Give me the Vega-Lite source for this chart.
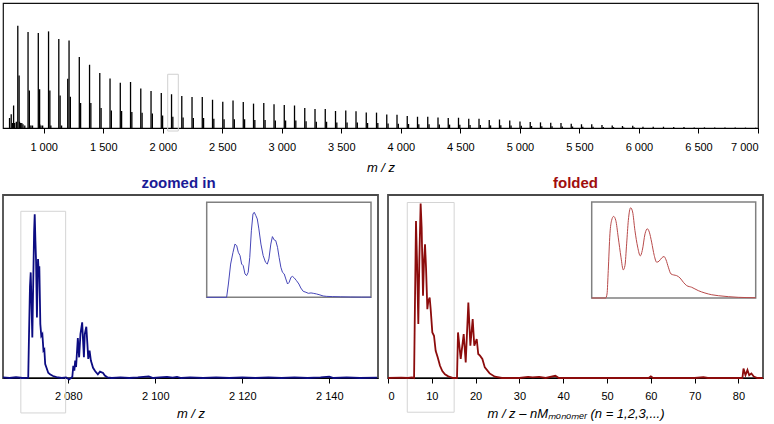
{
  "$schema": "https://vega.github.io/schema/vega-lite/v6.json",
  "padding": {"left": -2, "top": 2, "right": 0, "bottom": 0},
  "background": "white",
  "config": {
    "font": "Liberation Sans",
    "view": {"stroke": "#4a4a4a", "strokeWidth": 1.8},
    "axis": {"grid": false, "domainColor": "black", "domainWidth": 1, "tickColor": "black", "tickSize": 5, "labelFontSize": 11, "labelColor": "black", "titleFontSize": 13, "titleFontWeight": "normal", "titleFontStyle": "italic", "titleColor": "black", "labelPadding": 7, "titlePadding": 6},
    "title": {"fontSize": 15, "fontWeight": "bold", "offset": 4}
  },
  "datasets": {
    "top": [
      {"mz": 713, "h": 8}, {"mz": 727, "h": 11}, {"mz": 737, "h": 4}, {"mz": 747, "h": 18}, {"mz": 756, "h": 4}, {"mz": 770, "h": 5},
      {"mz": 797, "h": 5}, {"mz": 806, "h": 4}, {"mz": 816, "h": 4}, {"mz": 826, "h": 3}, {"mz": 841, "h": 2}, {"mz": 882, "h": 2}, {"mz": 893, "h": 2}, {"mz": 906, "h": 2}, {"mz": 966, "h": 3}, {"mz": 977, "h": 2}, {"mz": 991, "h": 2}, {"mz": 1060, "h": 2}, {"mz": 1150, "h": 2},
      {"mz": 782.3, "h": 81.8}, {"mz": 793.3, "h": 42},
      {"mz": 868.4, "h": 76.8}, {"mz": 879.4, "h": 30},
      {"mz": 954.5, "h": 76}, {"mz": 965.5, "h": 31},
      {"mz": 1040.6, "h": 77.3}, {"mz": 1051.6, "h": 30},
      {"mz": 1126.7, "h": 71.2}, {"mz": 1137.7, "h": 26},
      {"mz": 1201.8, "h": 39.4}, {"mz": 1212.8, "h": 70.1}, {"mz": 1223.8, "h": 25},
      {"mz": 1298.9, "h": 56.8}, {"mz": 1309.9, "h": 20},
      {"mz": 1385.0, "h": 50.6}, {"mz": 1396.0, "h": 20},
      {"mz": 1471.0, "h": 44}, {"mz": 1482.0, "h": 16},
      {"mz": 1557.1, "h": 39.7}, {"mz": 1568.1, "h": 14},
      {"mz": 1643.2, "h": 36.3}, {"mz": 1654.2, "h": 13.6},
      {"mz": 1729.3, "h": 36.8}, {"mz": 1740.3, "h": 12.8},
      {"mz": 1815.4, "h": 31.7}, {"mz": 1826.4, "h": 12.3},
      {"mz": 1901.5, "h": 29.6}, {"mz": 1912.5, "h": 11.7},
      {"mz": 1987.6, "h": 28}, {"mz": 1998.6, "h": 10},
      {"mz": 2073.7, "h": 27}, {"mz": 2084.7, "h": 9},
      {"mz": 2159.8, "h": 25.6}, {"mz": 2170.8, "h": 8.5},
      {"mz": 2245.8, "h": 24.8}, {"mz": 2256.8, "h": 8},
      {"mz": 2331.9, "h": 24.8}, {"mz": 2342.9, "h": 8},
      {"mz": 2418.0, "h": 22.6}, {"mz": 2429.0, "h": 7.5},
      {"mz": 2504.1, "h": 21}, {"mz": 2515.1, "h": 7},
      {"mz": 2590.2, "h": 22}, {"mz": 2601.2, "h": 7},
      {"mz": 2676.3, "h": 20.8}, {"mz": 2687.3, "h": 7},
      {"mz": 2762.4, "h": 19.5}, {"mz": 2773.4, "h": 6.5},
      {"mz": 2848.5, "h": 20}, {"mz": 2859.5, "h": 6.5},
      {"mz": 2934.6, "h": 19}, {"mz": 2945.6, "h": 6},
      {"mz": 3020.7, "h": 18.4}, {"mz": 3031.7, "h": 6},
      {"mz": 3106.7, "h": 18}, {"mz": 3117.7, "h": 6},
      {"mz": 3192.8, "h": 16}, {"mz": 3203.8, "h": 5.5},
      {"mz": 3278.9, "h": 15.2}, {"mz": 3289.9, "h": 5},
      {"mz": 3365.0, "h": 15.2}, {"mz": 3376.0, "h": 5},
      {"mz": 3451.1, "h": 13.6}, {"mz": 3462.1, "h": 4.5},
      {"mz": 3537.2, "h": 14}, {"mz": 3548.2, "h": 4.5},
      {"mz": 3623.3, "h": 13.4}, {"mz": 3634.3, "h": 4.5},
      {"mz": 3709.4, "h": 12.5}, {"mz": 3720.4, "h": 4},
      {"mz": 3795.5, "h": 12.3}, {"mz": 3806.5, "h": 4},
      {"mz": 3881.6, "h": 10.8}, {"mz": 3892.6, "h": 3.6},
      {"mz": 3967.6, "h": 10.6}, {"mz": 3978.6, "h": 3.5},
      {"mz": 4053.7, "h": 9.6}, {"mz": 4064.7, "h": 3.2},
      {"mz": 4139.8, "h": 9}, {"mz": 4150.8, "h": 3},
      {"mz": 4225.9, "h": 9}, {"mz": 4236.9, "h": 3},
      {"mz": 4312.0, "h": 8.5}, {"mz": 4323.0, "h": 2.8},
      {"mz": 4398.1, "h": 8}, {"mz": 4409.1, "h": 2.7},
      {"mz": 4484.2, "h": 8.2}, {"mz": 4495.2, "h": 2.7},
      {"mz": 4570.3, "h": 7.5}, {"mz": 4581.3, "h": 2.5},
      {"mz": 4656.4, "h": 7.5}, {"mz": 4667.4, "h": 2.5},
      {"mz": 4742.5, "h": 6.4}, {"mz": 4753.5, "h": 2.1},
      {"mz": 4828.5, "h": 6.8}, {"mz": 4839.5, "h": 2.2},
      {"mz": 4914.6, "h": 6}, {"mz": 4925.6, "h": 2},
      {"mz": 5000.7, "h": 5.3}, {"mz": 5011.7, "h": 1.8},
      {"mz": 5086.8, "h": 4.8}, {"mz": 5097.8, "h": 1.6},
      {"mz": 5172.9, "h": 4.5}, {"mz": 5183.9, "h": 1.5},
      {"mz": 5259.0, "h": 4.3}, {"mz": 5270.0, "h": 1.4},
      {"mz": 5345.1, "h": 4}, {"mz": 5356.1, "h": 1.3},
      {"mz": 5431.2, "h": 3.5}, {"mz": 5442.2, "h": 1.2},
      {"mz": 5517.3, "h": 3}, {"mz": 5528.3, "h": 1},
      {"mz": 5603.4, "h": 3}, {"mz": 5614.4, "h": 1},
      {"mz": 5689.4, "h": 2.4}, {"mz": 5700.4, "h": 0.8},
      {"mz": 5775.5, "h": 2}, {"mz": 5786.5, "h": 0.7},
      {"mz": 5861.6, "h": 1.6}, {"mz": 5872.6, "h": 0.5},
      {"mz": 5947.7, "h": 1.8}, {"mz": 5958.7, "h": 0.6},
      {"mz": 6033.8, "h": 1}, {"mz": 6119.9, "h": 1}, {"mz": 6206.0, "h": 1},
      {"mz": 6292.1, "h": 0.8}, {"mz": 6378.2, "h": 0.8}, {"mz": 6464.3, "h": 0.5},
      {"mz": 6550.3, "h": 0.5}, {"mz": 6636.4, "h": 0.5}, {"mz": 6722.5, "h": 0.4},
      {"mz": 6808.6, "h": 0.4}, {"mz": 6894.7, "h": 0.3}, {"mz": 6980.8, "h": 0.3}
    ],
    "zoom": [
      {"mz": 2065, "h": 0.3}, {"mz": 2066.5, "h": 0}, {"mz": 2068, "h": 0.4}, {"mz": 2069.5, "h": 0},
      {"mz": 2070.8, "h": 0.2}, {"mz": 2070.95, "h": 20}, {"mz": 2071.2, "h": 50}, {"mz": 2071.37, "h": 57.7},
      {"mz": 2071.5, "h": 45.8}, {"mz": 2071.74, "h": 22.2}, {"mz": 2071.97, "h": 55}, {"mz": 2072.15, "h": 80},
      {"mz": 2072.29, "h": 89.5}, {"mz": 2072.45, "h": 75}, {"mz": 2072.6, "h": 64}, {"mz": 2072.8, "h": 33.1},
      {"mz": 2073.05, "h": 65}, {"mz": 2073.2, "h": 58.5}, {"mz": 2073.35, "h": 61}, {"mz": 2073.58, "h": 29.5},
      {"mz": 2073.8, "h": 23}, {"mz": 2074.05, "h": 24}, {"mz": 2074.3, "h": 15}, {"mz": 2074.5, "h": 15.6},
      {"mz": 2074.7, "h": 7.6}, {"mz": 2075.0, "h": 5.6}, {"mz": 2075.4, "h": 2.9}, {"mz": 2075.8, "h": 2},
      {"mz": 2076.5, "h": 1.1}, {"mz": 2077.3, "h": 0.5}, {"mz": 2078.5, "h": 0}, {"mz": 2079.5, "h": 0.3},
      {"mz": 2080.2, "h": -0.8}, {"mz": 2080.6, "h": 0}, {"mz": 2080.93, "h": 0.5}, {"mz": 2081.16, "h": 6.7},
      {"mz": 2081.4, "h": 4}, {"mz": 2081.6, "h": 9.5}, {"mz": 2081.8, "h": 6}, {"mz": 2082.2, "h": 21.8},
      {"mz": 2082.5, "h": 11.3}, {"mz": 2082.8, "h": 24}, {"mz": 2083.2, "h": 30.4}, {"mz": 2083.4, "h": 20.5},
      {"mz": 2083.6, "h": 11.3}, {"mz": 2083.8, "h": 24}, {"mz": 2084.15, "h": 28}, {"mz": 2084.4, "h": 18.5},
      {"mz": 2084.6, "h": 10.4}, {"mz": 2084.9, "h": 15}, {"mz": 2085.2, "h": 9.5}, {"mz": 2085.7, "h": 5.6},
      {"mz": 2086.2, "h": 3.7}, {"mz": 2086.8, "h": 2}, {"mz": 2087.3, "h": 3.5}, {"mz": 2088.0, "h": 2.7},
      {"mz": 2088.4, "h": 1.3}, {"mz": 2089.0, "h": 0.4}, {"mz": 2090, "h": 0}, {"mz": 2092, "h": 0.3},
      {"mz": 2094, "h": 0}, {"mz": 2096, "h": 0.3}, {"mz": 2098.5, "h": 0.9}, {"mz": 2099.5, "h": 0},
      {"mz": 2101, "h": 0.3}, {"mz": 2102.7, "h": 0.6}, {"mz": 2104, "h": 0.2}, {"mz": 2105, "h": 0.6},
      {"mz": 2106, "h": 0}, {"mz": 2108, "h": 0.3}, {"mz": 2111, "h": 0}, {"mz": 2114, "h": 0.3},
      {"mz": 2117, "h": 0}, {"mz": 2120, "h": 0.3}, {"mz": 2123, "h": 0}, {"mz": 2126, "h": 0.3},
      {"mz": 2129, "h": 0}, {"mz": 2132, "h": 0.3}, {"mz": 2135, "h": 0}, {"mz": 2138, "h": 0.3},
      {"mz": 2140, "h": 0.7}, {"mz": 2141, "h": 0}, {"mz": 2144, "h": 0.3}, {"mz": 2147, "h": 0}, {"mz": 2151, "h": 0.2}
    ],
    "zoomInset": [
      {"mz": 2069.1, "h": 0}, {"mz": 2070.35, "h": 0}, {"mz": 2070.46, "h": 14}, {"mz": 2070.6, "h": 35},
      {"mz": 2070.75, "h": 47.4}, {"mz": 2070.87, "h": 56}, {"mz": 2070.98, "h": 54.4}, {"mz": 2071.08, "h": 47.4},
      {"mz": 2071.19, "h": 43.9}, {"mz": 2071.29, "h": 35}, {"mz": 2071.39, "h": 33.3}, {"mz": 2071.5, "h": 24.6},
      {"mz": 2071.6, "h": 22.8}, {"mz": 2071.7, "h": 26.3}, {"mz": 2071.8, "h": 42}, {"mz": 2071.9, "h": 70},
      {"mz": 2072.0, "h": 87.7}, {"mz": 2072.08, "h": 89.5}, {"mz": 2072.18, "h": 86}, {"mz": 2072.27, "h": 82.5},
      {"mz": 2072.37, "h": 72}, {"mz": 2072.5, "h": 56}, {"mz": 2072.64, "h": 43.9}, {"mz": 2072.79, "h": 36.8},
      {"mz": 2072.9, "h": 35}, {"mz": 2073.0, "h": 40.4}, {"mz": 2073.12, "h": 56}, {"mz": 2073.22, "h": 63.9},
      {"mz": 2073.33, "h": 60.4}, {"mz": 2073.43, "h": 59.6}, {"mz": 2073.54, "h": 52.6}, {"mz": 2073.64, "h": 42},
      {"mz": 2073.75, "h": 31.6}, {"mz": 2073.85, "h": 26.3}, {"mz": 2073.96, "h": 24.6}, {"mz": 2074.06, "h": 19.3},
      {"mz": 2074.17, "h": 14}, {"mz": 2074.27, "h": 15.8}, {"mz": 2074.38, "h": 21}, {"mz": 2074.48, "h": 22},
      {"mz": 2074.59, "h": 20.4}, {"mz": 2074.73, "h": 17.5}, {"mz": 2074.88, "h": 14}, {"mz": 2075.0, "h": 9.8},
      {"mz": 2075.15, "h": 6.3}, {"mz": 2075.32, "h": 5.3}, {"mz": 2075.47, "h": 4.2}, {"mz": 2075.64, "h": 4.6},
      {"mz": 2075.78, "h": 4.2}, {"mz": 2075.99, "h": 3.5}, {"mz": 2076.2, "h": 2.5}, {"mz": 2076.4, "h": 1.4},
      {"mz": 2076.6, "h": 1}, {"mz": 2077.0, "h": 0.7}, {"mz": 2077.5, "h": 0.5}, {"mz": 2078.1, "h": 0.3},
      {"mz": 2078.8, "h": 0.2}, {"mz": 2079.4, "h": 0.2}
    ],
    "fold": [
      {"mz": 0, "h": 0}, {"mz": 3, "h": 0.2}, {"mz": 4.5, "h": 0}, {"mz": 5.5, "h": 0.3}, {"mz": 5.95, "h": 0},
      {"mz": 6.15, "h": 40}, {"mz": 6.39, "h": 85.8}, {"mz": 6.62, "h": 64}, {"mz": 6.92, "h": 29.5},
      {"mz": 7.15, "h": 64}, {"mz": 7.45, "h": 95.3}, {"mz": 7.68, "h": 82.2}, {"mz": 7.99, "h": 44.9},
      {"mz": 8.22, "h": 64}, {"mz": 8.45, "h": 73.1}, {"mz": 8.68, "h": 60.4}, {"mz": 8.98, "h": 37.6},
      {"mz": 9.21, "h": 42.2}, {"mz": 9.51, "h": 44}, {"mz": 9.74, "h": 37.6}, {"mz": 10.12, "h": 24.9},
      {"mz": 10.5, "h": 23.1}, {"mz": 10.88, "h": 14.9}, {"mz": 11.34, "h": 11.3}, {"mz": 11.87, "h": 6.7},
      {"mz": 12.4, "h": 3.8}, {"mz": 13.0, "h": 2}, {"mz": 13.76, "h": 0.9}, {"mz": 14.9, "h": 0},
      {"mz": 15.75, "h": 0}, {"mz": 15.98, "h": 24.9}, {"mz": 16.6, "h": 10.4}, {"mz": 17.28, "h": 24},
      {"mz": 17.74, "h": 8.5}, {"mz": 18.34, "h": 41.3}, {"mz": 18.8, "h": 17.6}, {"mz": 19.33, "h": 32.2},
      {"mz": 19.7, "h": 17.6}, {"mz": 20.25, "h": 21.3}, {"mz": 20.6, "h": 13.1}, {"mz": 21.0, "h": 12.2},
      {"mz": 21.54, "h": 10.4}, {"mz": 22.1, "h": 5.8}, {"mz": 23.2, "h": 2.5}, {"mz": 24.4, "h": 0.7},
      {"mz": 26, "h": 0}, {"mz": 30, "h": 0}, {"mz": 32, "h": 0.6}, {"mz": 33, "h": 0.3}, {"mz": 34.5, "h": 0.6},
      {"mz": 36, "h": 0}, {"mz": 38.2, "h": 1.2}, {"mz": 39, "h": 0}, {"mz": 45, "h": 0}, {"mz": 50, "h": 0},
      {"mz": 59.5, "h": 0}, {"mz": 60, "h": 0.9}, {"mz": 60.5, "h": 0}, {"mz": 70, "h": 0}, {"mz": 72, "h": 0.4},
      {"mz": 73, "h": 0}, {"mz": 80.9, "h": 0}, {"mz": 81.15, "h": 5.2}, {"mz": 81.6, "h": 1.5},
      {"mz": 82.05, "h": 4.4}, {"mz": 82.45, "h": 1.5}, {"mz": 82.95, "h": 2.5}, {"mz": 83.5, "h": 0.8},
      {"mz": 84.3, "h": 0}, {"mz": 85.6, "h": 0}
    ],
    "foldInset": [
      {"mz": 4.4, "h": 0}, {"mz": 5.31, "h": 0}, {"mz": 5.4, "h": 4.2}, {"mz": 5.48, "h": 28.6},
      {"mz": 5.59, "h": 66.9}, {"mz": 5.7, "h": 80.9}, {"mz": 5.83, "h": 85}, {"mz": 5.97, "h": 80.9},
      {"mz": 6.13, "h": 63.4}, {"mz": 6.31, "h": 42.5}, {"mz": 6.46, "h": 29.3}, {"mz": 6.57, "h": 33.8},
      {"mz": 6.68, "h": 56.4}, {"mz": 6.79, "h": 80.9}, {"mz": 6.94, "h": 94}, {"mz": 7.07, "h": 89.6},
      {"mz": 7.22, "h": 70.4}, {"mz": 7.4, "h": 53}, {"mz": 7.57, "h": 43.9}, {"mz": 7.7, "h": 49.5},
      {"mz": 7.88, "h": 66.9}, {"mz": 8.03, "h": 72.1}, {"mz": 8.16, "h": 68.6}, {"mz": 8.31, "h": 58.2},
      {"mz": 8.48, "h": 44.3}, {"mz": 8.64, "h": 37.3}, {"mz": 8.79, "h": 38.3}, {"mz": 8.97, "h": 41.8},
      {"mz": 9.12, "h": 43.2}, {"mz": 9.25, "h": 39.7}, {"mz": 9.4, "h": 32.1}, {"mz": 9.57, "h": 25.1},
      {"mz": 9.75, "h": 24}, {"mz": 9.94, "h": 23.3}, {"mz": 10.16, "h": 20.9}, {"mz": 10.38, "h": 16.4},
      {"mz": 10.6, "h": 12.9}, {"mz": 10.92, "h": 11.2}, {"mz": 11.35, "h": 7.7}, {"mz": 11.79, "h": 5.2},
      {"mz": 12.23, "h": 3.4}, {"mz": 12.66, "h": 2.4}, {"mz": 13.31, "h": 1.4}, {"mz": 13.96, "h": 0.7},
      {"mz": 15.1, "h": 0.3}
    ]
  },
  "spacing": 0,
  "vconcat": [
    {
      "width": 755,
      "height": 125,
      "view": {"stroke": "#111", "strokeWidth": 1.2},
      "layer": [
        {
          "data": {"name": "top"},
          "mark": {"type": "rule", "color": "black", "strokeWidth": 1.3},
          "encoding": {
            "x": {"field": "mz", "type": "quantitative", "scale": {"domain": [658, 7000], "nice": false, "zero": false},
                  "axis": {"values": [1000, 1500, 2000, 2500, 3000, 3500, 4000, 4500, 5000, 5500, 6000, 6500, 7000], "labelExpr": "replace(format(datum.value, ','), ',', ' ')", "title": "m / z", "labelPadding": 8, "titlePadding": 9}},
            "y": {"field": "h", "type": "quantitative", "scale": {"domain": [0, 100], "nice": false}, "axis": null},
            "y2": {"datum": 0}
          }
        },
        {
          "data": {"values": [{}]},
          "mark": {"type": "rect", "fill": null, "stroke": "#d0d0d0", "strokeWidth": 1},
          "encoding": {
            "x": {"datum": 2041.5, "type": "quantitative"},
            "x2": {"datum": 2130.5},
            "y": {"datum": 43, "type": "quantitative"},
            "y2": {"datum": -2.4}
          }
        }
      ]
    },
    {
      "bounds": "flush",
      "spacing": 10,
      "hconcat": [
        {
          "width": 375,
          "height": 183,
          "title": {"text": "zoomed in", "color": "#1a1a96", "anchor": "start", "dx": 142},
          "resolve": {"scale": {"x": "independent", "y": "independent"}},
          "layer": [
            {
              "data": {"values": [{}]},
              "mark": {"type": "rect", "fill": null, "stroke": "#d4d4d4", "strokeWidth": 1},
              "encoding": {
                "x": {"datum": 2069.1, "type": "quantitative", "scale": {"domain": [2065, 2151.2], "nice": false, "zero": false}, "axis": null},
                "x2": {"datum": 2079.4},
                "y": {"datum": 91.1, "type": "quantitative", "scale": {"domain": [0, 100], "nice": false}, "axis": null},
                "y2": {"datum": -19.1}
              }
            },
            {
              "data": {"name": "zoom"},
              "mark": {"type": "line", "color": "#0c0c82", "strokeWidth": 1.8},
              "encoding": {
                "x": {"field": "mz", "type": "quantitative", "scale": {"domain": [2065, 2151.2], "nice": false, "zero": false},
                      "axis": {"values": [2080, 2100, 2120, 2140], "labelExpr": "replace(format(datum.value, ','), ',', ' ')", "title": "m / z"}},
                "y": {"field": "h", "type": "quantitative", "scale": {"domain": [0, 100], "nice": false}, "axis": null}
              }
            },
            {
              "data": {"values": [{}]},
              "mark": {"type": "rect", "fill": "white", "stroke": "#808080", "strokeWidth": 1.5},
              "encoding": {
                "x": {"datum": 2069.1, "type": "quantitative", "scale": {"domain": [2069.1, 2079.4], "range": [203.7, 368], "nice": false, "zero": false}, "axis": null},
                "x2": {"datum": 2079.4},
                "y": {"datum": 0, "type": "quantitative", "scale": {"domain": [0, 100], "range": [102.3, 7.3], "nice": false}, "axis": null},
                "y2": {"datum": 100}
              }
            },
            {
              "data": {"name": "zoomInset"},
              "mark": {"type": "line", "color": "#4646b8", "strokeWidth": 1},
              "encoding": {
                "x": {"field": "mz", "type": "quantitative", "scale": {"domain": [2069.1, 2079.4], "range": [203.7, 368], "nice": false, "zero": false}, "axis": null},
                "y": {"field": "h", "type": "quantitative", "scale": {"domain": [0, 100], "range": [102.3, 7.3], "nice": false}, "axis": null}
              }
            }
          ]
        },
        {
          "width": 375,
          "height": 183,
          "title": {"text": "folded", "color": "#a00d0d"},
          "resolve": {"scale": {"x": "independent", "y": "independent"}},
          "layer": [
            {
              "data": {"values": [{}]},
              "mark": {"type": "rect", "fill": null, "stroke": "#d4d4d4", "strokeWidth": 1},
              "encoding": {
                "x": {"datum": 4.4, "type": "quantitative", "scale": {"domain": [0, 85.6], "nice": false, "zero": false}, "axis": null},
                "x2": {"datum": 15.1},
                "y": {"datum": 95.9, "type": "quantitative", "scale": {"domain": [0, 100], "nice": false}, "axis": null},
                "y2": {"datum": -18.7}
              }
            },
            {
              "data": {"name": "fold"},
              "mark": {"type": "line", "color": "#8c0c0c", "strokeWidth": 1.8},
              "encoding": {
                "x": {"field": "mz", "type": "quantitative", "scale": {"domain": [0, 85.6], "nice": false, "zero": false},
                      "axis": {"values": [0, 10, 20, 30, 40, 50, 60, 70, 80], "title": "m / z – nMₘₒₙₒₘₑᵣ (n = 1,2,3,...)"}},
                "y": {"field": "h", "type": "quantitative", "scale": {"domain": [0, 100], "nice": false}, "axis": null}
              }
            },
            {
              "data": {"values": [{}]},
              "mark": {"type": "rect", "fill": "white", "stroke": "#808080", "strokeWidth": 1.5},
              "encoding": {
                "x": {"datum": 4.4, "type": "quantitative", "scale": {"domain": [4.4, 15.1], "range": [203.7, 367.7], "nice": false, "zero": false}, "axis": null},
                "x2": {"datum": 15.1},
                "y": {"datum": 0, "type": "quantitative", "scale": {"domain": [0, 100], "range": [103, 7], "nice": false}, "axis": null},
                "y2": {"datum": 100}
              }
            },
            {
              "data": {"name": "foldInset"},
              "mark": {"type": "line", "color": "#b84a4a", "strokeWidth": 1, "interpolate": "monotone"},
              "encoding": {
                "x": {"field": "mz", "type": "quantitative", "scale": {"domain": [4.4, 15.1], "range": [203.7, 367.7], "nice": false, "zero": false}, "axis": null},
                "y": {"field": "h", "type": "quantitative", "scale": {"domain": [0, 100], "range": [103, 7], "nice": false}, "axis": null}
              }
            }
          ]
        }
      ]
    }
  ]
}
